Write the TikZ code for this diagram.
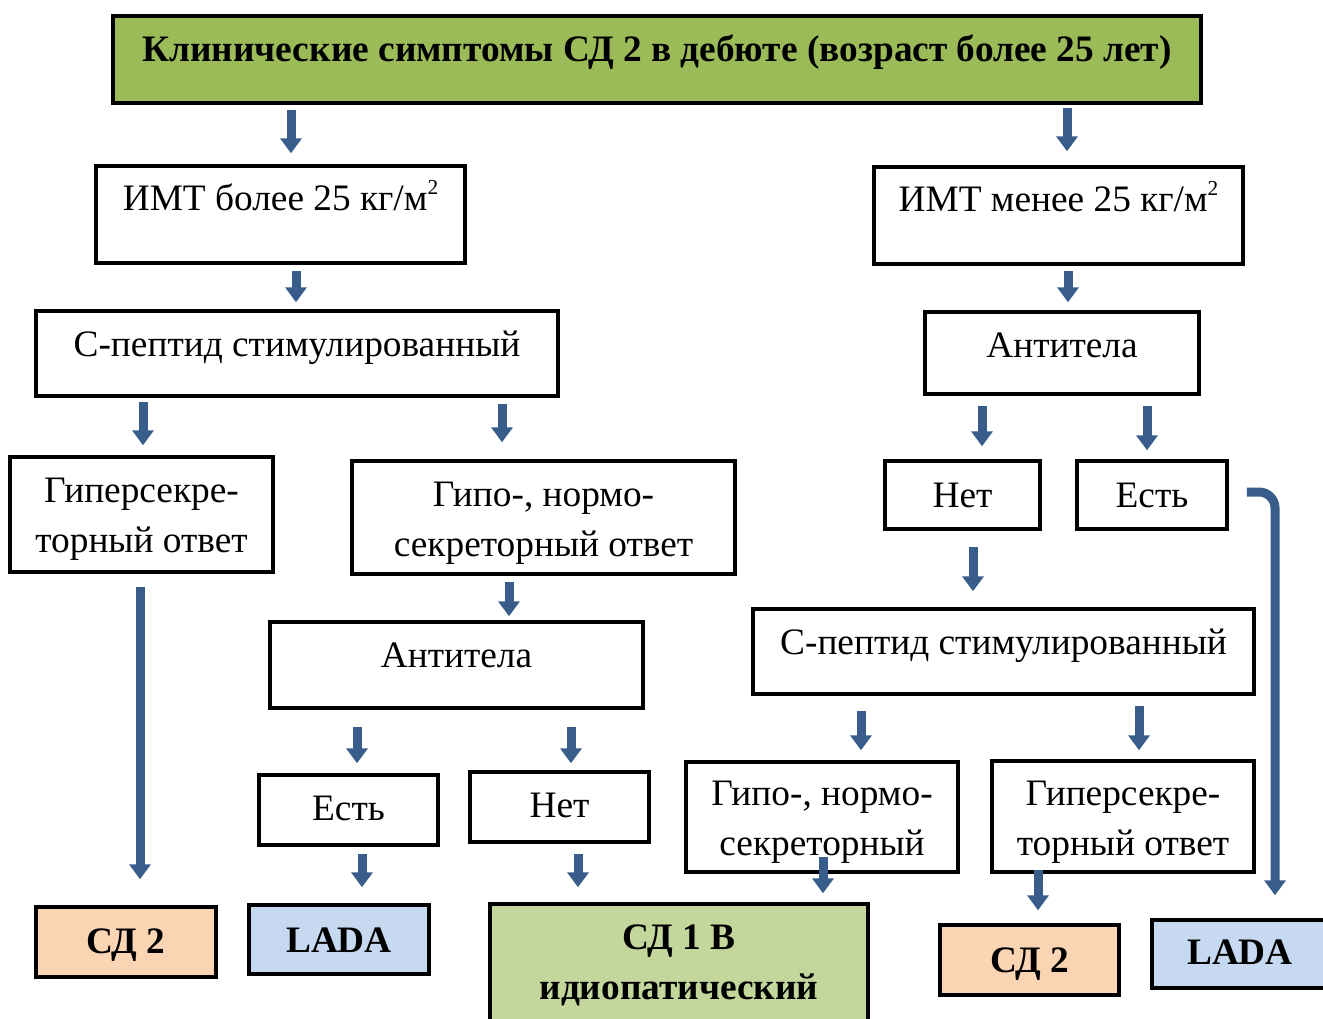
\documentclass[tikz,border=0pt]{standalone}
\usepackage{fontspec}
\setmainfont{Liberation Serif}
\usetikzlibrary{arrows.meta,calc}
\definecolor{arrc}{HTML}{385D8A}
\definecolor{titlegreen}{HTML}{9BBB59}
\definecolor{peach}{HTML}{FBD4B4}
\definecolor{lblue}{HTML}{C6D9F1}
\definecolor{lgreen}{HTML}{C3D69B}
\newcommand\bx[6]{\node[#1, minimum width={(#5-#3)*0.75pt}, minimum height={(#6-#4)*0.75pt}] (#2) at ({(#3+#5)/2},{(#4+#6)/2}) {};}
\newcommand\conn[5]{\draw[arr] ($(#1.south -| #3,0)+(0,#4)$) -- ($(#2.north -| #3,0)+(0,-#5)$);}
\newcommand\sqr{\raisebox{12pt}{\fontsize{16}{16}\selectfont 2}}
\begin{document}
\begin{tikzpicture}[x=0.75pt,y=-0.75pt,
  box/.style={draw=black, line width=2.6pt, inner sep=0pt, rectangle, fill=white},
  txt/.style={font=\fontsize{28}{37.5}\selectfont, inner sep=0pt, align=center},
  btxt/.style={font=\fontsize{28}{37.5}\selectfont\bfseries, inner sep=0pt, align=center},
  arr/.style={draw=arrc, line width=6.75pt, -{Triangle[width=15.75pt,length=11.25pt]}}]
\useasboundingbox (0,0) rectangle (1323,1019);
% boxes
\bx{box,fill=titlegreen,line width=3pt}{title}{113}{16}{1201}{103}
\bx{box}{imtA}{96}{166}{465}{263}
\bx{box}{imtB}{874}{167}{1243}{264}
\bx{box}{cpA}{36}{311}{558}{396}
\bx{box}{antB}{925}{312}{1199}{394}
\bx{box}{hypA}{10}{457}{273}{572}
\bx{box}{hypoA}{352}{461}{735}{574}
\bx{box}{antA}{270}{622}{643}{708}
\bx{box}{netB}{885}{461}{1040}{529}
\bx{box}{estB}{1077}{461}{1227}{529}
\bx{box}{cpB}{753}{609}{1254}{694}
\bx{box}{estA}{259}{775}{438}{845}
\bx{box}{netA}{470}{772}{649}{842}
\bx{box}{hypoB}{686}{762}{958}{872}
\bx{box}{hypB}{992}{761}{1254}{872}
\bx{box,fill=peach}{sdA}{36}{907}{216}{977}
\bx{box,fill=lblue}{ladaA}{249}{905}{429}{974}
\bx{box,fill=lgreen}{sdone}{490}{904}{868}{1035}
\bx{box,fill=peach}{sdB}{940}{925}{1119}{995}
\bx{box,fill=lblue}{ladaB}{1152}{920}{1328}{988}
% texts
\node[btxt,anchor=base] (title-t) at (title.center |- 0,62) {Клинические симптомы СД 2 в дебюте (возраст более 25 лет)};
\node[txt,anchor=base] (imtA-t) at (imtA.center |- 0,211) {ИМТ более 25 кг/м\sqr};
\node[txt,anchor=base] (imtB-t) at (imtB.center |- 0,212) {ИМТ менее 25 кг/м\sqr};
\node[txt,anchor=base] (cpA-t) at (cpA.center |- 0,357) {С-пептид стимулированный};
\node[txt,anchor=base] (antB-t) at (antB.center |- 0,358) {Антитела};
\node[txt,anchor=base] (hypA-t) at (hypA.center |- 0,552) {Гиперсекре-\\торный ответ};
\node[txt,anchor=base] (hypoA-t) at (hypoA.center |- 0,556) {Гипо-, нормо-\\секреторный ответ};
\node[txt,anchor=base] (antA-t) at (antA.center |- 0,667) {Антитела};
\node[txt,anchor=base] (netB-t) at (netB.center |- 0,507) {Нет};
\node[txt,anchor=base] (estB-t) at (estB.center |- 0,507) {Есть};
\node[txt,anchor=base] (cpB-t) at (cpB.center |- 0,654) {С-пептид стимулированный};
\node[txt,anchor=base] (estA-t) at (estA.center |- 0,820) {Есть};
\node[txt,anchor=base] (netA-t) at (netA.center |- 0,817) {Нет};
\node[txt,anchor=base] (hypoB-t) at (hypoB.center |- 0,855) {Гипо-, нормо-\\секреторный};
\node[txt,anchor=base] (hypB-t) at (hypB.center |- 0,855) {Гиперсекре-\\торный ответ};
\node[btxt,anchor=base] (sdA-t) at (sdA.center |- 0,953) {СД 2};
\node[btxt,anchor=base] (ladaA-t) at (ladaA.center |- 0,952) {LADA};
\node[btxt,anchor=base] (sdone-t) at (sdone.center |- 0,999) {СД 1 В\\идиопатический};
\node[btxt,anchor=base] (sdB-t) at (sdB.center |- 0,972) {СД 2};
\node[btxt,anchor=base] (ladaB-t) at (ladaB.center |- 0,964) {LADA};
% connectors
\conn{title}{imtA}{291}{5}{11}
\conn{title}{imtB}{1067}{3}{14}
\conn{imtA}{cpA}{296}{6}{7}
\conn{imtB}{antB}{1068}{5}{8}
\conn{cpA}{hypA}{143}{4}{10}
\conn{cpA}{hypoA}{502}{6}{17}
\conn{antB}{netB}{982}{10}{13}
\conn{antB}{estB}{1147}{10}{9}
\conn{hypA}{sdA}{140}{13}{26}
\conn{hypoA}{antA}{509}{6}{4}
\conn{antA}{estA}{357}{17}{10}
\conn{antA}{netA}{571}{17}{7}
\conn{estA}{ladaA}{362}{7}{16}
\conn{netA}{sdone}{578}{10}{15}
\conn{netB}{cpB}{973}{16}{16}
\conn{cpB}{hypoB}{861}{15}{10}
\conn{cpB}{hypB}{1139}{10}{9}
\conn{hypoB}{sdone}{823}{-17}{9}
\conn{hypB}{sdB}{1038}{-4}{13}
\draw[arr, rounded corners=12pt] ($(estB.east)+(18,-3)$) -| ($(ladaB.north -| 1275,0)+(0,-23)$);
\end{tikzpicture}
\end{document}
